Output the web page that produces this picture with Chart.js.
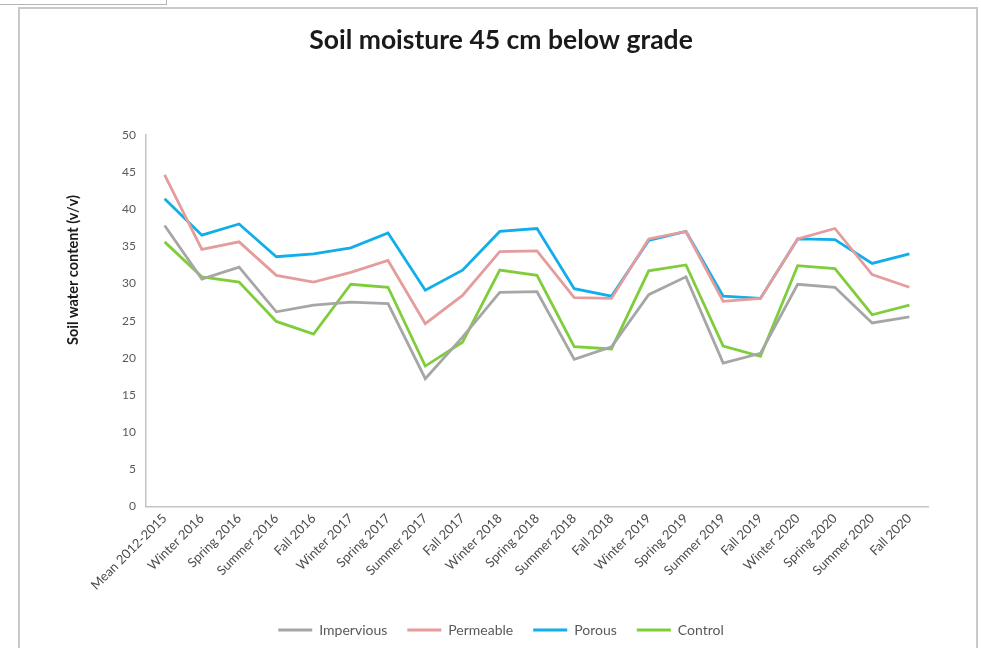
<!DOCTYPE html>
<html>
<head>
<meta charset="utf-8">
<script src="https://cdn.jsdelivr.net/npm/chart.js@4/dist/chart.umd.min.js"></script>
<style>
  html, body { margin: 0; padding: 0; background: #ffffff; }
  #wrap { position: relative; width: 981px; height: 648px; overflow: hidden; }
  .tab { position: absolute; left: 0; top: 0; width: 166px; height: 4px;
         border-right: 1px solid #b4b4b4; border-bottom: 1px solid #b4b4b4; }
  .frame { position: absolute; left: 18px; top: 7px; width: 960px; height: 660px;
           border: 2px solid #c9c9c9; box-sizing: border-box; }
  canvas { position: absolute; left: 0; top: 0; }
</style>
</head>
<body>
<div id="wrap">
  <div class="tab"></div>
  <div class="frame"></div>
  <canvas id="chart" width="981" height="648"></canvas>
</div>
<script>
// Sampling periods
const periods = [
  'Mean 2012-2015', 'Winter 2016', 'Spring 2016', 'Summer 2016', 'Fall 2016',
  'Winter 2017', 'Spring 2017', 'Summer 2017', 'Fall 2017',
  'Winter 2018', 'Spring 2018', 'Summer 2018', 'Fall 2018',
  'Winter 2019', 'Spring 2019', 'Summer 2019', 'Fall 2019',
  'Winter 2020', 'Spring 2020', 'Summer 2020', 'Fall 2020'
];

// Soil water content (v/v) at 45 cm depth, per surface type
const impervious = [37.8, 30.6, 32.2, 26.2, 27.1, 27.5, 27.3, 17.2, 22.8, 28.8, 28.9, 19.8, 21.5, 28.5, 30.9, 19.3, 20.6, 29.9, 29.5, 24.7, 25.5];
const permeable  = [44.6, 34.6, 35.6, 31.1, 30.2, 31.5, 33.1, 24.6, 28.4, 34.3, 34.4, 28.1, 28.0, 36.0, 37.0, 27.6, 28.0, 36.0, 37.4, 31.2, 29.5];
const porous     = [41.4, 36.5, 38.0, 33.6, 34.0, 34.8, 36.8, 29.1, 31.8, 37.0, 37.4, 29.3, 28.3, 35.8, 37.0, 28.3, 28.0, 36.0, 35.9, 32.7, 34.0];
const control    = [35.6, 30.9, 30.2, 24.9, 23.2, 29.9, 29.5, 18.9, 22.1, 31.8, 31.1, 21.5, 21.2, 31.7, 32.5, 21.6, 20.2, 32.4, 32.0, 25.8, 27.1];

const seriesNames = ['Impervious', 'Permeable', 'Porous', 'Control'];
const seriesColors = ['#a6a6a6', '#e59c9c', '#12aeea', '#80cd3c'];
const seriesData = [impervious, permeable, porous, control];

const FONT = "Lato, 'Open Sans', 'DejaVu Sans', sans-serif";

// Rotated y-axis caption, placed beside the tick labels
const yCaption = {
  id: 'yCaption',
  afterDraw(chart) {
    const ctx = chart.ctx;
    ctx.save();
    ctx.translate(73, 270);
    ctx.rotate(-Math.PI / 2);
    ctx.font = 'bold 14.5px ' + FONT;
    ctx.fillStyle = '#1a1a1a';
    ctx.textAlign = 'center';
    ctx.textBaseline = 'middle';
    ctx.fillText('Soil water content (v/v)', 0, 0);
    ctx.restore();
  }
};

new Chart(document.getElementById('chart'), {
  type: 'line',
  data: {
    labels: periods,
    datasets: seriesData.map((d, i) => ({
      label: seriesNames[i],
      data: d,
      borderColor: seriesColors[i],
      backgroundColor: seriesColors[i],
      borderWidth: 2.8,
      pointRadius: 0,
      tension: 0,
      fill: false
    }))
  },
  options: {
    responsive: false,
    animation: false,
    layout: { padding: { top: 0, right: 53, bottom: 1, left: 74 } },
    plugins: {
      title: {
        display: true,
        text: 'Soil moisture 45 cm below grade',
        color: '#1a1a1a',
        font: { family: FONT, size: 26.5, weight: 'bold' },
        padding: { top: 25, bottom: 78 }
      },
      legend: {
        position: 'bottom',
        labels: {
          usePointStyle: true,
          pointStyle: 'line',
          pointStyleWidth: 34,
          color: '#595959',
          font: { family: FONT, size: 14 },
          padding: 20
        }
      },
      tooltip: { enabled: false }
    },
    scales: {
      x: {
        offset: true,
        afterFit(scale) { scale.height += 6; },
        grid: { display: false, drawTicks: false },
        border: { display: true, color: '#c4c4c4', width: 1.5 },
        ticks: {
          color: '#4d4d4d',
          font: { family: FONT, size: 13 },
          minRotation: 45,
          maxRotation: 45,
          autoSkip: false,
          padding: 4
        }
      },
      y: {
        min: 0,
        max: 50,
        afterFit(scale) { scale.width = 72; },
        grid: { display: false, drawTicks: true, tickLength: 4, tickColor: '#c4c4c4' },
        border: { display: true, color: '#c4c4c4', width: 1.5 },
        ticks: {
          stepSize: 5,
          color: '#595959',
          font: { family: FONT, size: 12 },
          padding: 6
        }
      }
    }
  },
  plugins: [yCaption]
});
</script>
</body>
</html>
